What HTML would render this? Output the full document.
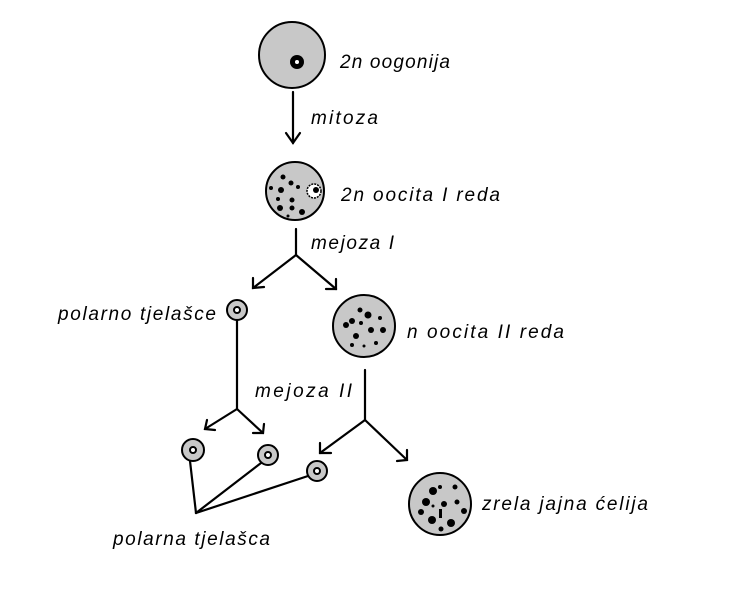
<!DOCTYPE html>
<html><head><style>
html,body{margin:0;padding:0;background:#fff;}
svg{display:block}
text{font-family:"Liberation Sans",sans-serif;font-style:italic;font-size:19px;fill:#000;}
</style></head><body>
<svg width="742" height="591" viewBox="0 0 742 591">
<g stroke="#000" stroke-width="2" fill="#c8c8c8">
<circle cx="292" cy="55" r="33"/>
<circle cx="295" cy="191" r="29"/>
<circle cx="237" cy="310" r="10"/>
<circle cx="364" cy="326" r="31"/>
<circle cx="193" cy="450" r="11"/>
<circle cx="268" cy="455" r="10"/>
<circle cx="317" cy="471" r="10"/>
<circle cx="440" cy="504" r="31"/>
</g>
<circle cx="297" cy="62" r="7" fill="#000"/><circle cx="297" cy="62" r="2" fill="#fff"/>
<g fill="#fff" stroke="#000" stroke-width="2">
<circle cx="237" cy="310" r="3"/><circle cx="193" cy="450" r="3"/><circle cx="268" cy="455" r="3"/><circle cx="317" cy="471" r="3"/>
</g>
<circle cx="314" cy="191" r="7" fill="#fff" stroke="#000" stroke-width="1.5" stroke-dasharray="2 1"/>
<circle cx="316" cy="190" r="3" fill="#000"/>
<g fill="#000">
<circle cx="283" cy="177" r="2.5"/><circle cx="291" cy="183" r="2.5"/><circle cx="281" cy="190" r="3"/><circle cx="271" cy="188" r="2"/><circle cx="298" cy="187" r="2"/><circle cx="278" cy="199" r="2"/><circle cx="292" cy="200" r="2.5"/><circle cx="280" cy="208" r="3"/><circle cx="292" cy="208" r="2.5"/><circle cx="302" cy="212" r="3"/><circle cx="288" cy="216" r="1.5"/>
<circle cx="352" cy="321" r="3"/><circle cx="360" cy="310" r="2.5"/><circle cx="368" cy="315" r="3.5"/><circle cx="346" cy="325" r="3"/><circle cx="361" cy="323" r="2"/><circle cx="371" cy="330" r="3"/><circle cx="383" cy="330" r="3"/><circle cx="356" cy="336" r="3"/><circle cx="352" cy="345" r="2"/><circle cx="376" cy="343" r="2"/><circle cx="380" cy="318" r="2"/><circle cx="364" cy="346" r="1.5"/>
<circle cx="433" cy="491" r="4"/><circle cx="426" cy="502" r="4"/><circle cx="440" cy="487" r="2"/><circle cx="455" cy="487" r="2.5"/><circle cx="457" cy="502" r="2.5" /><circle cx="444" cy="504" r="3"/><circle cx="421" cy="512" r="3"/><circle cx="464" cy="511" r="3"/><circle cx="432" cy="520" r="4"/><circle cx="451" cy="523" r="4"/><circle cx="441" cy="529" r="2.5"/><circle cx="433" cy="506" r="1.5"/><rect x="439" y="509" width="3" height="9"/>
</g>
<g stroke="#000" stroke-width="2.2" fill="none" stroke-linecap="round">
<line x1="293" y1="92" x2="293" y2="143"/><polyline points="286,133 293,143 300,133"/>
<line x1="296" y1="229" x2="296" y2="255"/><line x1="296" y1="255" x2="253" y2="288"/><line x1="296" y1="255" x2="336" y2="289"/>
<polyline points="253,278 253,288 264,287"/><polyline points="336,279 336,289 326,289"/>
<line x1="237" y1="320" x2="237" y2="409"/><line x1="237" y1="409" x2="205" y2="429"/><line x1="237" y1="409" x2="263" y2="433"/>
<polyline points="207,420 205,429 215,430"/><polyline points="264,424 263,433 253,433"/>
<line x1="365" y1="370" x2="365" y2="420"/><line x1="365" y1="420" x2="320" y2="453"/><line x1="365" y1="420" x2="407" y2="460"/>
<polyline points="320,443 320,453 331,453"/><polyline points="407,450 407,460 397,461"/>
<line x1="196" y1="513" x2="190" y2="461"/><line x1="196" y1="513" x2="261" y2="463"/><line x1="196" y1="513" x2="308" y2="476"/>
</g>
<text x="340" y="68" textLength="110" lengthAdjust="spacing">2n oogonija</text>
<text x="311" y="124" textLength="67" lengthAdjust="spacing">mitoza</text>
<text x="341" y="201" textLength="159" lengthAdjust="spacing">2n oocita I reda</text>
<text x="311" y="249" textLength="83" lengthAdjust="spacing">mejoza I</text>
<text x="58" y="320" textLength="158" lengthAdjust="spacing">polarno tjelašce</text>
<text x="407" y="338" textLength="157" lengthAdjust="spacing">n oocita II reda</text>
<text x="255" y="397" textLength="97" lengthAdjust="spacing">mejoza II</text>
<text x="482" y="510" textLength="166" lengthAdjust="spacing">zrela jajna ćelija</text>
<text x="113" y="545" textLength="157" lengthAdjust="spacing">polarna tjelašca</text>
</svg>
</body></html>
